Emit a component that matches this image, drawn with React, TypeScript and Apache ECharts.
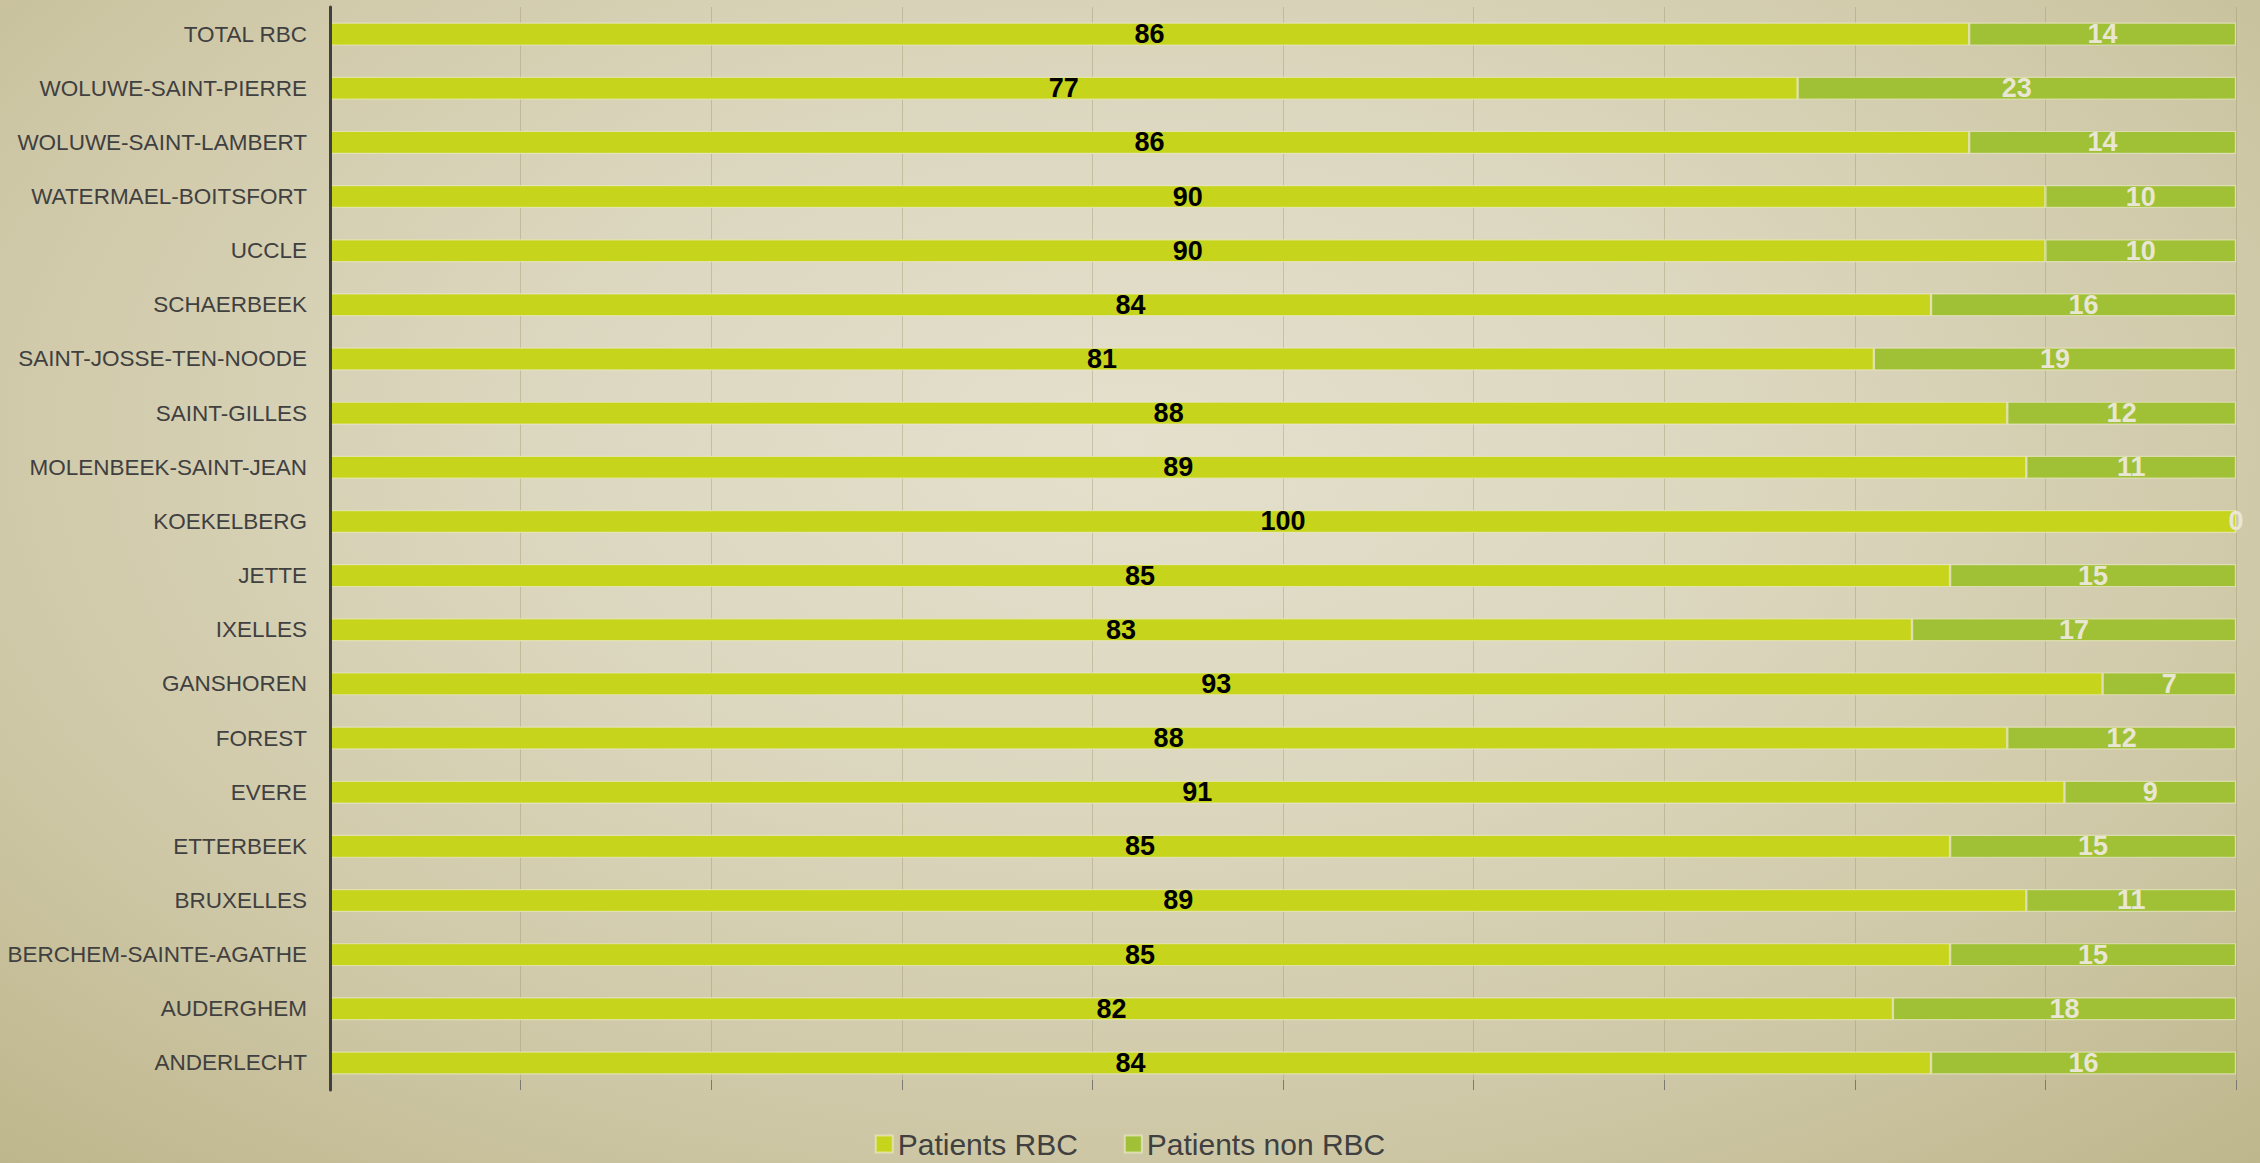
import React, { useEffect, useRef } from "react";
import * as echarts from "echarts";

const categories = [
  "TOTAL RBC",
  "WOLUWE-SAINT-PIERRE",
  "WOLUWE-SAINT-LAMBERT",
  "WATERMAEL-BOITSFORT",
  "UCCLE",
  "SCHAERBEEK",
  "SAINT-JOSSE-TEN-NOODE",
  "SAINT-GILLES",
  "MOLENBEEK-SAINT-JEAN",
  "KOEKELBERG",
  "JETTE",
  "IXELLES",
  "GANSHOREN",
  "FOREST",
  "EVERE",
  "ETTERBEEK",
  "BRUXELLES",
  "BERCHEM-SAINTE-AGATHE",
  "AUDERGHEM",
  "ANDERLECHT",
];
const patientsRBC = [86, 77, 86, 90, 90, 84, 81, 88, 89, 100, 85, 83, 93, 88, 91, 85, 89, 85, 82, 84];
const patientsNonRBC = [14, 23, 14, 10, 10, 16, 19, 12, 11, 0, 15, 17, 7, 12, 9, 15, 11, 15, 18, 16];
const seriesNames = ["Patients RBC", "Patients non RBC"];

export default function App() {
  const ref = useRef<HTMLDivElement>(null);
  useEffect(() => {
    document.body.style.margin = "0";
    const chart = echarts.init(ref.current!, undefined, { renderer: "svg" });
    const barBorder = { borderColor: "rgba(235,232,200,0.7)", borderWidth: 1.2 };
    chart.setOption({
      animation: false,
      backgroundColor: "transparent",
      textStyle: { fontFamily: "Liberation Sans" },
      grid: { left: 330, right: 24, top: 7, bottom: 73, containLabel: false },
      legend: {
        data: seriesNames,
        top: 1129,
        left: "center",
        icon: "rect",
        itemWidth: 17,
        itemHeight: 17,
        itemGap: 46,
        padding: 0,
        textStyle: { color: "#404040", fontSize: 30, lineHeight: 30, fontFamily: "Liberation Sans" },
      },
      xAxis: {
        type: "value",
        min: 0,
        max: 100,
        interval: 10,
        axisLabel: { show: false },
        axisLine: { show: false },
        axisTick: { show: true, inside: true, length: 10, lineStyle: { color: "#7a7a70", width: 1 } },
        splitLine: { show: true, lineStyle: { color: "rgba(150,140,100,0.35)", width: 1 } },
      },
      yAxis: {
        type: "category",
        data: categories,
        inverse: true,
        z: 5,
        axisLine: { show: true, lineStyle: { color: "#404040", width: 3 } },
        axisTick: { show: false },
        axisLabel: { color: "#404040", fontSize: 22.5, margin: 23, fontFamily: "Liberation Sans" },
        splitLine: { show: false },
      },
      series: [
        {
          name: seriesNames[0],
          type: "bar",
          stack: "total",
          data: patientsRBC,
          barWidth: 23,
          itemStyle: { color: "#c6d51b", ...barBorder },
          label: {
            show: true,
            position: "inside",
            color: "#000000",
            fontWeight: "bold",
            fontSize: 27,
            fontFamily: "Liberation Sans",
          },
        },
        {
          name: seriesNames[1],
          type: "bar",
          stack: "total",
          data: patientsNonRBC,
          barWidth: 23,
          itemStyle: { color: "#a0c036", ...barBorder },
          label: {
            show: true,
            position: "inside",
            color: "#e9e6d4",
            fontWeight: "bold",
            fontSize: 27,
            fontFamily: "Liberation Sans",
          },
        },
      ],
    });
    return () => chart.dispose();
  }, []);
  return (
    <div
      style={{
        width: 2260,
        height: 1163,
        background:
          "radial-gradient(ellipse 75% 85% at 50% 38%, #e4e0cd 0%, #dcd7bf 35%, #cfc8a7 70%, #bdb58a 100%)",
      }}
    >
      <div ref={ref} style={{ width: 2260, height: 1163 }} />
    </div>
  );
}
